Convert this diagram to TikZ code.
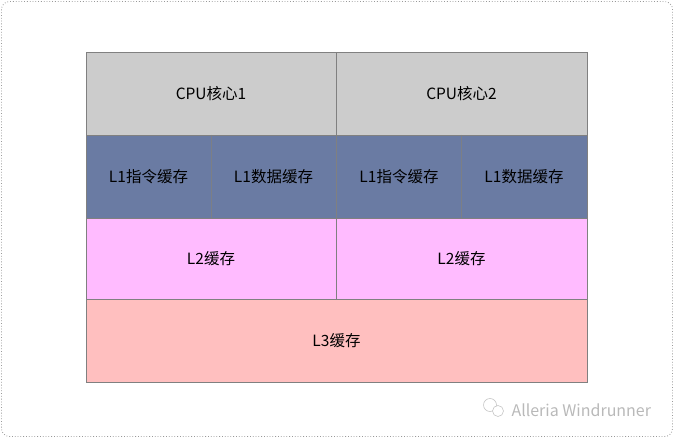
\documentclass[tikz,border=0pt]{standalone}
\usepackage{fontspec}
\setmainfont{Noto Sans CJK SC}
\begin{document}
\begin{tikzpicture}[x=1pt,y=-1pt,
  lbl/.style={font=\fontsize{15.5}{18}\selectfont,text=black},
  wm/.style={font=\fontsize{16}{18}\selectfont,text=gray!55}]
\useasboundingbox (0,0) rectangle (674,438);
\draw[gray!80,dotted,line width=0.8pt,rounded corners=8] (1.5,1.5) rectangle (672.5,436.5);
\definecolor{cpu}{HTML}{CCCCCC}
\definecolor{lone}{HTML}{6A7BA3}
\definecolor{ltwo}{HTML}{FFBBFF}
\definecolor{lthree}{HTML}{FFBFBF}
% CPU row
\filldraw[fill=cpu,draw=gray] (86,52) rectangle (336,135);
\filldraw[fill=cpu,draw=gray] (336,52) rectangle (587,135);
\node[lbl] (c1) at (211,94) {CPU核心1};
\node[lbl] (c2) at (461.5,94) {CPU核心2};
% L1 row
\filldraw[fill=lone,draw=gray] (86,135) rectangle (336,218);
\filldraw[fill=lone,draw=gray] (336,135) rectangle (587,218);
\draw[gray!85!lone,line width=0.4pt] (211,135) -- (211,218);
\draw[gray!85!lone,line width=0.4pt] (461.5,135) -- (461.5,218);
\node[lbl] (i1) at (148.5,177) {L1指令缓存};
\node[lbl] (d1) at (273.5,177) {L1数据缓存};
\node[lbl] (i2) at (399,177) {L1指令缓存};
\node[lbl] (d2) at (524,177) {L1数据缓存};
% L2 row
\filldraw[fill=ltwo,draw=gray] (86,218) rectangle (336,299);
\filldraw[fill=ltwo,draw=gray] (336,218) rectangle (587,299);
\node[lbl] (l21) at (211,259) {L2缓存};
\node[lbl] (l22) at (461.5,259) {L2缓存};
% L3 row
\filldraw[fill=lthree,draw=gray] (86,299) rectangle (587,382);
\node[lbl] (l3) at (336.5,341) {L3缓存};
% watermark
\draw[gray!45,line width=0.6pt] (490,405) circle (6.5);
\draw[gray!45,line width=0.6pt,fill=white] (498,411) circle (5.5);
\node[wm,anchor=west] (wmt) at (508,410) {Alleria Windrunner};
\end{tikzpicture}
\end{document}
